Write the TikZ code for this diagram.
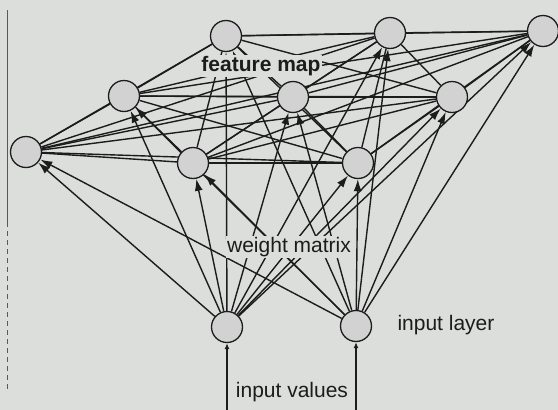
\documentclass[tikz,border=0pt]{standalone}
\usepackage{fontspec}
\setmainfont{Liberation Sans}
\usetikzlibrary{arrows.meta}
\definecolor{bgc}{HTML}{DCDEDC}
\definecolor{ink}{HTML}{1C1C1C}
\pgfdeclarelayer{back}
\pgfdeclarelayer{lines}
\pgfsetlayers{back,lines,main}
\begin{document}
\begin{tikzpicture}[x=1pt,y=-1pt,
  unit/.style={circle,minimum size=31pt,inner sep=0pt,fill=gray!35,draw=ink,line width=1.3pt},
  lat/.style={draw=ink,line width=1.4pt},
  feed/.style={draw=ink,line width=1.4pt,-{Latex[length=12pt,width=8pt]}},
  lbl/.style={font=\fontsize{21}{25}\selectfont,text=ink,inner sep=1pt},
  hide/.style={fill=bgc}]
\useasboundingbox (0,0) rectangle (558,410);
\begin{pgfonlayer}{back}
\fill[bgc] (0,0) rectangle (558,410);
\draw[gray!70!black,line width=0.8pt] (7,10) -- (7,222);
\draw[gray!70!black,line width=0.8pt,dash pattern=on 5pt off 4pt] (7,222) -- (7,392);
\end{pgfonlayer}
% feature map nodes
\node[unit] (n1) at (226,36) {};
\node[unit] (n2) at (390,33) {};
\node[unit] (n3) at (543,31) {};
\node[unit] (n4) at (124,96) {};
\node[unit] (n5) at (293,97) {};
\node[unit] (n6) at (452,97) {};
\node[unit] (n7) at (26,152) {};
\node[unit] (n8) at (193,163) {};
\node[unit] (n9) at (358,163) {};
% input nodes
\node[unit] (i1) at (227,327) {};
\node[unit] (i2) at (356,326) {};
\coordinate (b1) at (227,410);
\coordinate (b2) at (356,410);
\begin{pgfonlayer}{lines}
\foreach \a/\b in {n1/n2,n1/n3,n1/n4,n1/n5,n1/n6,n1/n7,n1/n8,n1/n9,
  n2/n3,n2/n4,n2/n5,n2/n6,n2/n7,n2/n8,n2/n9,
  n3/n4,n3/n5,n3/n6,n3/n7,n3/n8,n3/n9,
  n4/n5,n4/n6,n4/n7,n4/n8,n4/n9,
  n5/n6,n5/n7,n5/n8,n5/n9,
  n6/n7,n6/n8,n6/n9,
  n7/n8,n7/n9,n8/n9}
  \draw[lat] (\a) -- (\b);
\foreach \t in {n1,n2,n3,n4,n5,n6,n7,n8,n9}{
  \draw[feed] (i1) -- (\t);
  \draw[feed] (i2) -- (\t);
}
\draw[feed,{Latex[length=6pt,width=5pt]}-] (i1) -- (b1);
\draw[feed,{Latex[length=6pt,width=5pt]}-] (i2) -- (b2);
\end{pgfonlayer}
% labels
\node[lbl,hide,font=\fontsize{21}{25}\selectfont\bfseries] (fm) at (261,66) {feature map};
\node[lbl,hide] (wm) at (289,247) {weight matrix};
\node[lbl] (il) at (446,325) {input layer};
\node[lbl,hide] (iv) at (292,392) {input values};
\end{tikzpicture}
\end{document}
